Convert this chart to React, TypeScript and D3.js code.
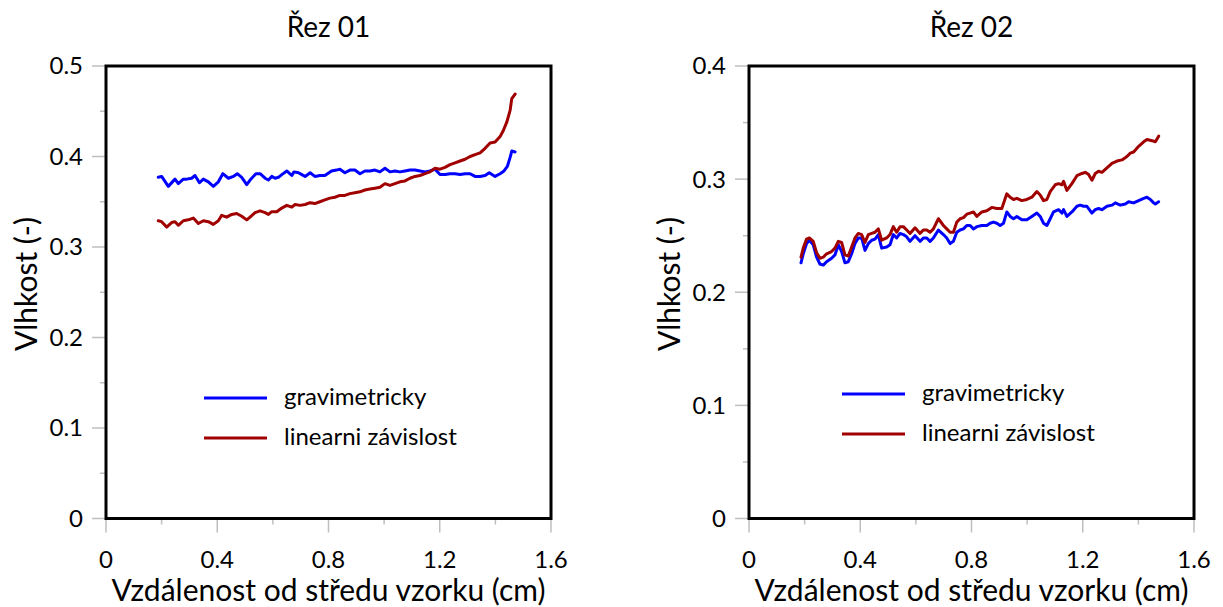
import React from "react";
import * as d3 from "d3";

// distance from the centre of the sample (cm), moisture (-)
const leftGravimetric: [number, number][] = [
  [0.188,0.377],[0.200,0.378],[0.224,0.367],[0.248,0.375],[0.260,0.370],[0.278,0.375],[0.290,0.375],[0.308,0.376],[0.320,0.379],[0.336,0.371],
  [0.350,0.375],[0.368,0.372],[0.386,0.367],[0.404,0.372],[0.420,0.381],[0.440,0.376],[0.458,0.378],[0.472,0.381],[0.488,0.377],[0.506,0.369],
  [0.518,0.374],[0.539,0.381],[0.554,0.381],[0.572,0.376],[0.584,0.374],[0.596,0.378],[0.608,0.376],[0.620,0.377],[0.632,0.380],[0.650,0.384],
  [0.668,0.379],[0.676,0.383],[0.692,0.382],[0.704,0.380],[0.716,0.378],[0.734,0.382],[0.751,0.378],[0.769,0.379],[0.787,0.379],[0.811,0.384],
  [0.829,0.385],[0.841,0.386],[0.859,0.382],[0.877,0.385],[0.895,0.385],[0.913,0.381],[0.931,0.384],[0.949,0.384],[0.967,0.385],[0.985,0.383],
  [1.003,0.387],[1.021,0.383],[1.039,0.384],[1.057,0.383],[1.075,0.384],[1.093,0.385],[1.111,0.385],[1.129,0.384],[1.147,0.383],[1.165,0.384],
  [1.183,0.386],[1.201,0.380],[1.219,0.380],[1.237,0.381],[1.255,0.381],[1.273,0.380],[1.291,0.381],[1.309,0.381],[1.327,0.378],[1.345,0.378],
  [1.363,0.379],[1.378,0.382],[1.399,0.378],[1.417,0.381],[1.431,0.384],[1.443,0.389],[1.453,0.399],[1.459,0.406],[1.471,0.405],
];

const leftLinear: [number, number][] = [
  [0.188,0.329],[0.200,0.328],[0.218,0.322],[0.236,0.327],[0.248,0.328],[0.260,0.324],[0.278,0.329],[0.296,0.330],[0.314,0.332],[0.332,0.326],
  [0.350,0.329],[0.368,0.328],[0.386,0.325],[0.404,0.329],[0.416,0.335],[0.434,0.333],[0.452,0.336],[0.470,0.337],[0.488,0.334],[0.506,0.330],
  [0.518,0.333],[0.536,0.338],[0.554,0.340],[0.572,0.338],[0.584,0.336],[0.596,0.339],[0.614,0.339],[0.632,0.343],[0.650,0.346],[0.668,0.344],
  [0.680,0.347],[0.698,0.346],[0.716,0.347],[0.734,0.349],[0.751,0.348],[0.769,0.350],[0.787,0.352],[0.805,0.354],[0.823,0.355],[0.841,0.357],
  [0.859,0.357],[0.877,0.359],[0.895,0.360],[0.913,0.361],[0.931,0.363],[0.949,0.364],[0.967,0.365],[0.985,0.366],[1.003,0.370],[1.021,0.368],
  [1.039,0.370],[1.057,0.372],[1.075,0.373],[1.093,0.376],[1.111,0.378],[1.129,0.379],[1.147,0.381],[1.165,0.383],[1.183,0.387],[1.201,0.386],
  [1.219,0.388],[1.237,0.391],[1.255,0.393],[1.273,0.395],[1.291,0.397],[1.309,0.400],[1.327,0.402],[1.345,0.404],[1.363,0.409],[1.381,0.415],
  [1.399,0.416],[1.417,0.422],[1.429,0.429],[1.441,0.438],[1.453,0.451],[1.459,0.464],[1.471,0.469],
];

const rightGravimetric: [number, number][] = [
  [0.187,0.226],[0.195,0.234],[0.207,0.243],[0.217,0.246],[0.231,0.242],[0.243,0.231],[0.255,0.225],[0.267,0.224],[0.279,0.227],[0.297,0.230],
  [0.309,0.233],[0.321,0.242],[0.333,0.236],[0.345,0.226],[0.357,0.227],[0.369,0.234],[0.381,0.243],[0.393,0.248],[0.405,0.248],[0.417,0.237],
  [0.429,0.243],[0.441,0.246],[0.453,0.247],[0.465,0.251],[0.477,0.239],[0.495,0.240],[0.507,0.242],[0.519,0.251],[0.531,0.248],[0.543,0.252],
  [0.555,0.251],[0.567,0.249],[0.579,0.245],[0.597,0.250],[0.615,0.245],[0.627,0.248],[0.639,0.248],[0.651,0.245],[0.663,0.248],[0.681,0.255],
  [0.699,0.251],[0.711,0.248],[0.723,0.243],[0.735,0.245],[0.747,0.253],[0.759,0.255],[0.771,0.256],[0.783,0.259],[0.795,0.259],[0.807,0.256],
  [0.819,0.258],[0.837,0.259],[0.855,0.259],[0.867,0.261],[0.879,0.262],[0.891,0.261],[0.903,0.259],[0.915,0.261],[0.927,0.271],[0.939,0.267],
  [0.951,0.265],[0.963,0.267],[0.981,0.264],[0.999,0.264],[1.017,0.267],[1.035,0.270],[1.047,0.267],[1.059,0.261],[1.071,0.259],[1.083,0.265],
  [1.095,0.271],[1.113,0.273],[1.125,0.270],[1.131,0.273],[1.143,0.267],[1.161,0.271],[1.179,0.276],[1.191,0.277],[1.203,0.276],[1.215,0.276],
  [1.233,0.270],[1.245,0.273],[1.257,0.274],[1.269,0.273],[1.287,0.276],[1.305,0.277],[1.317,0.279],[1.335,0.277],[1.353,0.278],[1.365,0.280],
  [1.383,0.279],[1.401,0.281],[1.419,0.283],[1.431,0.284],[1.443,0.282],[1.455,0.279],[1.461,0.278],[1.473,0.280],
];

const rightLinear: [number, number][] = [
  [0.187,0.231],[0.195,0.239],[0.207,0.247],[0.217,0.248],[0.231,0.245],[0.243,0.235],[0.255,0.230],[0.267,0.231],[0.279,0.234],[0.297,0.236],
  [0.309,0.239],[0.321,0.245],[0.333,0.244],[0.345,0.233],[0.357,0.232],[0.369,0.240],[0.381,0.248],[0.393,0.252],[0.405,0.251],[0.417,0.244],
  [0.429,0.251],[0.441,0.252],[0.453,0.253],[0.465,0.256],[0.477,0.246],[0.495,0.248],[0.507,0.251],[0.519,0.258],[0.531,0.253],[0.543,0.258],
  [0.555,0.258],[0.567,0.255],[0.579,0.252],[0.597,0.257],[0.615,0.252],[0.627,0.255],[0.639,0.255],[0.651,0.253],[0.663,0.256],[0.681,0.265],
  [0.699,0.259],[0.711,0.256],[0.723,0.253],[0.735,0.253],[0.747,0.262],[0.759,0.265],[0.771,0.266],[0.783,0.269],[0.795,0.270],[0.807,0.271],
  [0.819,0.267],[0.837,0.271],[0.855,0.272],[0.873,0.275],[0.891,0.274],[0.909,0.274],[0.927,0.287],[0.939,0.284],[0.951,0.282],[0.963,0.283],
  [0.981,0.281],[0.999,0.282],[1.017,0.284],[1.035,0.289],[1.047,0.286],[1.059,0.281],[1.071,0.282],[1.083,0.289],[1.101,0.295],[1.113,0.296],
  [1.125,0.295],[1.131,0.298],[1.143,0.290],[1.161,0.296],[1.179,0.303],[1.197,0.305],[1.209,0.306],[1.221,0.304],[1.233,0.299],[1.245,0.305],
  [1.257,0.307],[1.269,0.306],[1.287,0.310],[1.305,0.314],[1.323,0.316],[1.341,0.317],[1.359,0.320],[1.371,0.323],[1.383,0.324],[1.401,0.329],
  [1.419,0.333],[1.431,0.335],[1.449,0.334],[1.461,0.333],[1.473,0.338],
];

const xTicks = [0, 0.4, 0.8, 1.2, 1.6];
const xMinorTicks = [0.2, 0.6, 1.0, 1.4];
const leftYTicks = [0, 0.1, 0.2, 0.3, 0.4, 0.5];
const leftYMinor = [0.05, 0.15, 0.25, 0.35, 0.45];
const rightYTicks = [0, 0.1, 0.2, 0.3, 0.4];
const rightYMinor = [0.05, 0.15, 0.25, 0.35];
const titles = ["Řez 01", "Řez 02"];
const seriesNames = ["gravimetricky", "linearni závislost"];
const xTitle = "Vzdálenost od středu vzorku (cm)";
const yTitle = "Vlhkost (-)";

const COLORS = ["#0000ff", "#a00000"];
const FONT = "Lato, 'Open Sans', sans-serif";
const TICK_GRAY = "#bfbfbf";

type PanelProps = {
  x0: number;
  x1: number;
  yMax: number;
  yTicks: number[];
  yMinor: number[];
  title: string;
  series: [number, number][][];
  legendX: number;
  legendY: number;
};

function Panel({ x0, x1, yMax, yTicks, yMinor, title, series, legendX, legendY }: PanelProps) {
  const top = 66;
  const bottom = 518.5;
  const x = d3.scaleLinear().domain([0, 1.6]).range([x0, x1]);
  const y = d3.scaleLinear().domain([0, yMax]).range([bottom, top]);
  const line = d3
    .line<[number, number]>()
    .x((d) => x(d[0]))
    .y((d) => y(d[1]))
    .curve(d3.curveLinear);
  const fmt = (v: number) => (v === 0 ? "0" : d3.format(".1f")(v));
  return (
    <g>
      <text x={(x0 + x1) / 2} y={37} textAnchor="middle" fontSize={28} fontFamily={FONT} fill="#000">
        {title}
      </text>
      {/* x ticks */}
      {xTicks.map((t) => (
        <line key={"xt" + t} x1={x(t)} x2={x(t)} y1={bottom} y2={bottom + 14} stroke={TICK_GRAY} strokeWidth={1.5} />
      ))}
      {xMinorTicks.map((t) => (
        <line key={"xm" + t} x1={x(t)} x2={x(t)} y1={bottom} y2={bottom + 6} stroke={TICK_GRAY} strokeWidth={1.5} />
      ))}
      {yTicks.map((t) => (
        <line key={"yt" + t} x1={x0 - 14} x2={x0} y1={y(t)} y2={y(t)} stroke={TICK_GRAY} strokeWidth={1.5} />
      ))}
      {yMinor.map((t) => (
        <line key={"ym" + t} x1={x0 - 6} x2={x0} y1={y(t)} y2={y(t)} stroke={TICK_GRAY} strokeWidth={1.5} />
      ))}
      {xTicks.map((t) => (
        <text key={"xl" + t} x={x(t)} y={568} textAnchor="middle" fontSize={24} fontFamily={FONT} fill="#000">
          {fmt(t)}
        </text>
      ))}
      {yTicks.map((t) => (
        <text key={"yl" + t} x={x0 - 23} y={y(t)} dy="0.35em" textAnchor="end" fontSize={24} fontFamily={FONT} fill="#000">
          {fmt(t)}
        </text>
      ))}
      <text x={(x0 + x1) / 2} y={601} textAnchor="middle" fontSize={30} fontFamily={FONT} fill="#000">
        {xTitle}
      </text>
      <text
        transform={`translate(${x0 - 69},${284}) rotate(-90)`}
        textAnchor="middle"
        fontSize={30}
        fontFamily={FONT}
        fill="#000"
      >
        {yTitle}
      </text>
      {series.map((s, i) => (
        <path key={"s" + i} d={line(s) || ""} fill="none" stroke={COLORS[i]} strokeWidth={3} strokeLinejoin="round" strokeLinecap="round" />
      ))}
      <rect x={x0} y={top} width={x1 - x0} height={bottom - top} fill="none" stroke="#000" strokeWidth={3} />
      {seriesNames.map((n, i) => (
        <g key={"lg" + i}>
          <line x1={legendX} x2={legendX + 63} y1={legendY + i * 40} y2={legendY + i * 40} stroke={COLORS[i]} strokeWidth={3} />
          <text x={legendX + 80} y={legendY + i * 40} dy="0.3em" fontSize={24} fontFamily={FONT} fill="#000">
            {n}
          </text>
        </g>
      ))}
    </g>
  );
}

export default function App() {
  return (
    <svg
      width={1223}
      height={607}
      style={{ position: "absolute", left: 0, top: 0, background: "#fff" }}
    >
      <rect width={1223} height={607} fill="#fff" />
      <Panel
        x0={106}
        x1={551}
        yMax={0.5}
        yTicks={leftYTicks}
        yMinor={leftYMinor}
        title={titles[0]}
        series={[leftGravimetric, leftLinear]}
        legendX={204}
        legendY={398}
      />
      <Panel
        x0={749}
        x1={1194}
        yMax={0.4}
        yTicks={rightYTicks}
        yMinor={rightYMinor}
        title={titles[1]}
        series={[rightGravimetric, rightLinear]}
        legendX={842}
        legendY={394}
      />
    </svg>
  );
}
